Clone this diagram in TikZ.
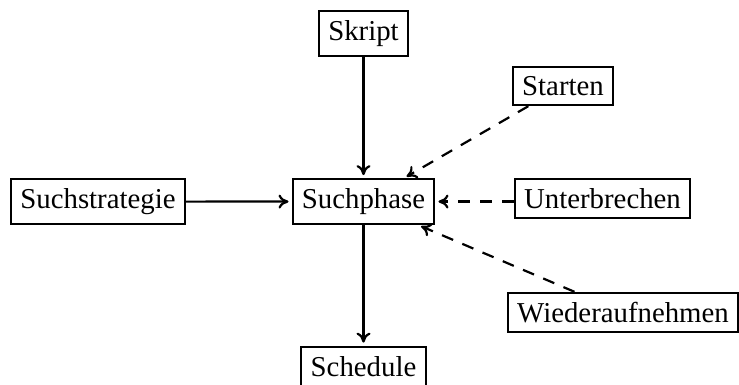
\documentclass[tikz,border=0pt]{standalone}
\usepackage{fontspec}
\setmainfont{Liberation Serif}
\usetikzlibrary{arrows.meta}
\begin{document}
\begin{tikzpicture}[x=0.5pt,y=-0.5pt,
  box/.style={draw,line width=1pt,anchor=base,inner sep=4.7pt,
    font=\fontsize{14.4}{17}\selectfont},
  flow/.style={-{Computer Modern Rightarrow[length=5pt,width=7pt,line width=1.1pt]},
    line width=1.1pt,shorten >=1.5pt},
  ctrl/.style={flow,dash pattern=on 6pt off 5pt}]
\useasboundingbox (0,0) rectangle (739,385);
\node[box] (skript) at (363.5,40.5) {Skript};
\node[box] (phase) at (363.5,208.5) {Suchphase};
\node[box] (strat) at (98,208.5) {Suchstrategie};
\node[box] (sched) at (363.5,376) {Schedule};
\node[box] (start) at (563,95.5) {Starten};
\node[box] (unter) at (602.5,208.5) {Unterbrechen};
\node[box] (wieder) at (623,322.5) {Wiederaufnehmen};
% data flow into and out of the search phase
\draw[flow] (skript) -- (phase);
\draw[flow] (strat) -- (phase);
\draw[flow] (phase) -- (sched);
% control commands
\draw[ctrl] (start) -- (phase);
\draw[ctrl] (unter.west |- phase.east) -- (phase.east);
\draw[ctrl] (wieder) -- (phase);
\end{tikzpicture}
\end{document}
